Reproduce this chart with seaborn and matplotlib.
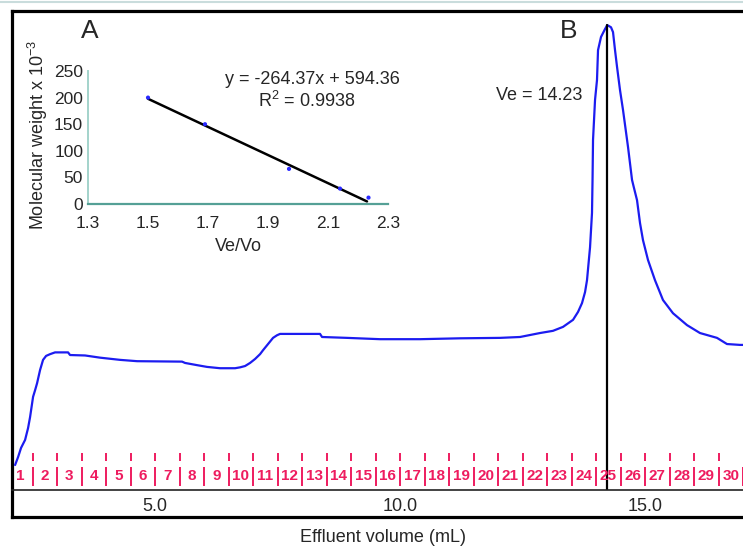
import matplotlib
matplotlib.use("Agg")
import matplotlib.pyplot as plt
import seaborn as sns
import pandas as pd
from matplotlib.lines import Line2D

# ---------------- data ----------------
volume_ml = [2.143, 2.204, 2.265, 2.347, 2.408, 2.449, 2.510, 2.551, 2.592, 2.653,
             2.714, 2.776, 2.857, 2.959, 3.224, 3.265, 3.571, 3.878, 4.286, 4.633,
             5.551, 5.612, 5.857, 6.061, 6.327, 6.633, 6.735, 6.837, 6.939, 7.041,
             7.143, 7.204, 7.306, 7.408, 7.490, 7.551, 8.367, 8.408, 8.918, 9.592,
             10.408, 11.224, 12.041, 12.449, 12.857, 13.122, 13.327, 13.531, 13.633,
             13.714, 13.776, 13.816, 13.878, 13.918, 13.929, 13.939, 13.980, 14.020,
             14.041, 14.102, 14.184, 14.230, 14.306, 14.347, 14.388, 14.429, 14.490,
             14.551, 14.653, 14.735, 14.770, 14.837, 14.898, 14.959, 15.061, 15.204,
             15.367, 15.571, 15.857, 16.122, 16.469, 16.673, 16.939, 17.000]
absorbance = [0.0, 1.8, 3.9, 5.7, 8.4, 10.9, 15.5, 17.0, 18.6, 21.6,
              23.9, 24.8, 25.2, 25.6, 25.6, 25.0, 24.9, 24.4, 23.9, 23.6,
              23.5, 23.2, 22.7, 22.3, 22.0, 22.0, 22.2, 22.5, 23.2, 24.1,
              25.2, 26.1, 27.5, 28.9, 29.5, 29.8, 29.8, 29.1, 28.9, 28.6,
              28.6, 28.8, 28.9, 29.1, 30.0, 30.5, 31.4, 33.0, 34.8,
              36.8, 39.3, 42.0, 49.5, 57.3, 64.8, 73.9, 83.0, 87.5,
              94.3, 97.3, 99.1, 100.0, 99.5, 98.4, 94.3, 90.5, 85.2,
              80.7, 72.3, 64.8, 63.2, 60.2, 55.0, 51.1, 46.6, 42.0,
              37.5, 34.5, 31.8, 30.0, 28.9, 27.5, 27.3, 27.3]
ve_peak = 14.23
peak_abs = 100.0

fractions = [1, 2, 3, 4, 5, 6, 7, 8, 9, 10, 11, 12, 13, 14, 15,
             16, 17, 18, 19, 20, 21, 22, 23, 24, 25, 26, 27, 28, 29, 30]
fraction_first_ml = 2.0
fraction_size_ml = 0.5

x_major_ticks = [5.0, 10.0, 15.0]
x_major_labels = ["5.0", "10.0", "15.0"]
x_minor_ticks = [2.5, 7.5, 12.5]

std_ve_vo = [1.50, 1.69, 1.97, 2.14, 2.235]
std_mw = [200, 150, 66, 29, 12]
fit_slope = -264.37
fit_intercept = 594.36
fit_r2 = 0.9938
inset_xticks = [1.3, 1.5, 1.7, 1.9, 2.1, 2.3]
inset_yticks = [0, 50, 100, 150, 200, 250]

# ---------------- style ----------------
sns.set_style("white")
plt.rcParams['font.family'] = ['Liberation Sans', 'DejaVu Sans']
plt.rcParams['mathtext.fontset'] = 'custom'
plt.rcParams['mathtext.rm'] = 'Liberation Sans'
plt.rcParams['mathtext.it'] = 'Liberation Sans:italic'

W, H = 743, 548
fig = plt.figure(figsize=(W / 100, H / 100), dpi=100)
fig.patch.set_facecolor('white')


def fx(p):
    return p / W


def fy(p):
    return 1 - p / H


# faint line at very top
fig.add_artist(Line2D([0, 1], [fy(1.5), fy(1.5)], color='#c9dcdc', lw=1.5))

# outer box
box = fig.add_axes([fx(12), fy(517), 1 - fx(12) + 0.01, fy(11) - fy(517)])
box.set_xticks([])
box.set_yticks([])
for s in ['left', 'top', 'bottom']:
    box.spines[s].set_linewidth(2.3)
    box.spines[s].set_color('black')
box.spines['right'].set_visible(False)
box.set_facecolor('white')

# main chromatogram axes
ax = fig.add_axes([fx(12), fy(490), 1 - fx(12), fy(11) - fy(490)])
ax.patch.set_alpha(0)
df = pd.DataFrame({'volume': volume_ml, 'abs': absorbance})
sns.lineplot(data=df, x='volume', y='abs', ax=ax, color='#1c1cf0', lw=1.6,
             estimator=None, sort=False)
ylo, yhi = -5.68, 103.2
ax.set_xlim(2.08, 17.0)
ax.set_ylim(ylo, yhi)
ax.plot([ve_peak, ve_peak], [ylo, peak_abs], color='black', lw=1.6)

for s in ['left', 'top', 'right']:
    ax.spines[s].set_visible(False)
ax.spines['bottom'].set_linewidth(1.2)
ax.spines['bottom'].set_color('#222222')
ax.set_yticks([])
ax.set_xticks(x_major_ticks)
ax.set_xticklabels(x_major_labels, fontsize=13)
ax.set_xticks(x_minor_ticks, minor=True)
ax.tick_params(axis='x', which='both', direction='inout', length=4,
               width=1, color='#9aa', pad=4)
ax.set_xlabel('')
ax.set_ylabel('')

# fraction collector strip
tr = ax.get_xaxis_transform()
frac_color = '#ee1c5f'
for i, n in enumerate(fractions):
    start = fraction_first_ml + fraction_size_ml * i
    end = start + fraction_size_ml
    center = start + fraction_size_ml / 2
    ax.text(center, 0.029, str(n), transform=tr, ha='center', va='center',
            fontsize=11, fontweight='bold', color=frac_color)
    if i > 0:
        ax.plot([start, start], [0.0605, 0.0772], transform=tr,
                color=frac_color, lw=1.4, solid_capstyle='butt')
        ax.plot([start, start], [0.009, 0.048], transform=tr,
                color=frac_color, lw=1.4, solid_capstyle='butt')
    if n == fractions[-1]:
        ax.plot([end, end], [0.009, 0.048], transform=tr, clip_on=False,
                color=frac_color, lw=1.4, solid_capstyle='butt')

fig.text(fx(383), fy(538), 'Effluent volume (mL)', ha='center', va='center',
         fontsize=13)
fig.text(fx(90), fy(31), 'A', ha='center', va='center', fontsize=19)
fig.text(fx(569), fy(31), 'B', ha='center', va='center', fontsize=19)
fig.text(fx(539), fy(95), 'Ve = 14.23', ha='center', va='center', fontsize=13)

# ---------------- inset: calibration ----------------
ins = fig.add_axes([fx(88), fy(204), 300 / W, 133 / H])
ins.patch.set_alpha(0)
sns.scatterplot(x=std_ve_vo, y=std_mw, ax=ins, color='#2a2aff', s=9,
                edgecolor='none', zorder=3)
fit_x = [min(std_ve_vo), 2.23]
fit_y = [fit_slope * v + fit_intercept for v in fit_x]
sns.lineplot(x=fit_x, y=fit_y, ax=ins, color='black', lw=1.8, zorder=2)
ins.set_xlim(1.3, 2.3)
ins.set_ylim(0, 250)
ins.set_xticks(inset_xticks)
ins.set_xticklabels([f"{v:.1f}" for v in inset_xticks])
ins.set_yticks(inset_yticks)
for s in ['top', 'right']:
    ins.spines[s].set_visible(False)
ins.spines['bottom'].set_color('#55a096')
ins.spines['bottom'].set_linewidth(1.6)
ins.spines['left'].set_color('#a3d3cb')
ins.spines['left'].set_linewidth(1.4)
ins.tick_params(axis='both', direction='inout', length=3, width=1.3,
                color='#2d625b', labelsize=12.5)
ins.tick_params(axis='x', pad=7)
ins.tick_params(axis='y', pad=2)
ins.set_xlabel('Ve/Vo', fontsize=13, labelpad=5)
ins.set_ylabel('Molecular weight x 10$^{-3}$', fontsize=13)
ins.yaxis.set_label_coords(-0.125, 0.52)

fig.text(fx(312), fy(80), 'y = -264.37x + 594.36', ha='center', va='center',
         fontsize=13)
fig.text(fx(307), fy(101), f'R$^2$ = {fit_r2}', ha='center', va='center',
         fontsize=13)

fig.savefig('out.png', dpi=100)
